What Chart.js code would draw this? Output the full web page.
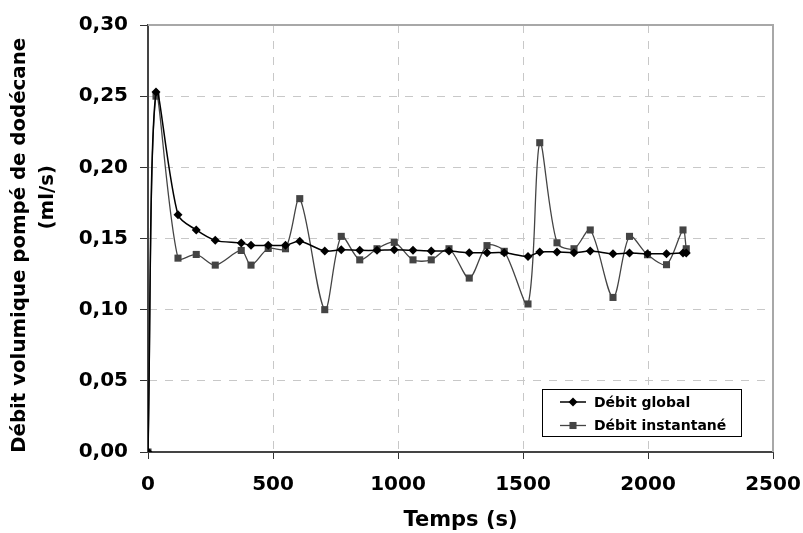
<!DOCTYPE html>
<html>
<head>
<meta charset="utf-8">
<script src="https://cdn.jsdelivr.net/npm/chart.js@4/dist/chart.umd.min.js"></script>
<style>
  body { margin: 0; background: #fff; }
  #wrap { width: 803px; height: 533px; }
</style>
</head>
<body>
<div id="wrap"><canvas id="debitChart" width="803" height="533"></canvas></div>
<script>
// temps (s) des mesures
const temps = [0, 32, 120, 193, 269, 373, 412, 481, 550, 607, 707, 773, 847, 916, 985, 1060,
  1133, 1204, 1285, 1356, 1425, 1520, 1567, 1636, 1704, 1769, 1860, 1926, 1998, 2074, 2140, 2153];
// débit global (ml/s)
const debitGlobal = [0, 0.253, 0.1667, 0.156, 0.1487, 0.1468, 0.1452, 0.1452, 0.1452, 0.148,
  0.1412, 0.1421, 0.1417, 0.1417, 0.1421, 0.1417, 0.1412, 0.1412, 0.140, 0.140, 0.140, 0.1374,
  0.1405, 0.1405, 0.140, 0.1412, 0.1393, 0.1398, 0.1393, 0.1393, 0.1398, 0.1398];
// débit instantané (ml/s)
const debitInstantane = [0, 0.25, 0.1362, 0.1388, 0.1313, 0.1416, 0.1313, 0.143, 0.1428, 0.178,
  0.100, 0.1515, 0.135, 0.1428, 0.1473, 0.135, 0.135, 0.1428, 0.1222, 0.145, 0.141, 0.104,
  0.2173, 0.147, 0.1428, 0.156, 0.1086, 0.1515, 0.1386, 0.1316, 0.156, 0.1428];
const seriesNames = ['Débit global', 'Débit instantané'];
const xTicks = [0, 500, 1000, 1500, 2000, 2500];
const yTicks = [0, 0.05, 0.10, 0.15, 0.20, 0.25, 0.30];

const FONT = "'DejaVu Sans', 'Liberation Sans', Arial, sans-serif";

const toPoints = (xs, ys) => xs.map((x, i) => ({ x: x, y: ys[i] }));

// cadre gris en haut et à droite
const framePlugin = {
    id: 'frame',
    beforeDatasetsDraw(chart) {
        const { ctx, chartArea: a } = chart;
        ctx.save();
        ctx.strokeStyle = '#a8a8a8';
        ctx.lineWidth = 2;
        ctx.beginPath();
        ctx.moveTo(a.left, a.top);
        ctx.lineTo(a.right, a.top);
        ctx.lineTo(a.right, a.bottom);
        ctx.stroke();
        ctx.restore();
    }
};

// légende encadrée dans la zone du graphique
const boxLegend = {
    id: 'boxLegend',
    afterDraw(chart) {
        const { ctx, chartArea: a } = chart;
        const w = 199, h = 47;
        const x0 = a.right - 32 - w, y0 = a.bottom - 16 - h;
        ctx.save();
        ctx.fillStyle = '#fff';
        ctx.fillRect(x0, y0, w, h);
        ctx.strokeStyle = '#000';
        ctx.lineWidth = 1;
        ctx.strokeRect(x0 + 0.5, y0 + 0.5, w, h);
        ctx.font = 'bold 14px ' + FONT;
        ctx.textBaseline = 'middle';
        chart.data.datasets.forEach((ds, i) => {
            const cy = y0 + 13 + i * 23.5;
            ctx.strokeStyle = ds.borderColor;
            ctx.lineWidth = ds.borderWidth;
            ctx.beginPath();
            ctx.moveTo(x0 + 18, cy);
            ctx.lineTo(x0 + 44, cy);
            ctx.stroke();
            ctx.fillStyle = ds.pointBackgroundColor;
            ctx.strokeStyle = ds.pointBorderColor;
            Chart.helpers.drawPoint(ctx, {
                pointStyle: ds.pointStyle, radius: ds.pointRadius, rotation: 0, borderWidth: 0
            }, x0 + 31, cy);
            ctx.fillStyle = '#000';
            ctx.fillText(ds.label, x0 + 52, cy + 1);
        });
        ctx.restore();
    }
};

const ctx = document.getElementById('debitChart').getContext('2d');
const debitChart = new Chart(ctx, {
    type: 'line',
    data: {
        datasets: [{
            label: seriesNames[0],
            data: toPoints(temps, debitGlobal),
            borderColor: '#000000',
            borderWidth: 1.5,
            pointStyle: 'rectRot',
            pointRadius: 4.5,
            pointBackgroundColor: '#000000',
            pointBorderColor: '#000000',
            pointBorderWidth: 0,
            tension: 0.3
        }, {
            label: seriesNames[1],
            data: toPoints(temps, debitInstantane),
            borderColor: '#444444',
            borderWidth: 1.3,
            pointStyle: 'rect',
            pointRadius: 5,
            pointBackgroundColor: '#444444',
            pointBorderColor: '#444444',
            pointBorderWidth: 0,
            tension: 0.3
        }]
    },
    options: {
        responsive: false,
        animation: false,
        layout: { padding: { left: 0, right: 30, top: 25, bottom: 0 } },
        plugins: {
            legend: { display: false },
            tooltip: { enabled: false }
        },
        scales: {
            x: {
                type: 'linear',
                min: 0,
                max: 2500,
                afterBuildTicks: s => { s.ticks = xTicks.map(v => ({ value: v })); },
                afterFit: s => { s.height = 81; s.paddingLeft = 0; s.paddingRight = 0; },
                ticks: {
                    color: '#000',
                    font: { family: FONT, size: 20, weight: 'bold' },
                    padding: 14,
                    maxRotation: 0,
                    callback: v => String(v)
                },
                grid: {
                    color: '#c8c8c8',
                    lineWidth: 1,
                    tickColor: '#333',
                    tickLength: 7,
                    tickWidth: 1
                },
                border: { color: '#444', width: 2, dash: [8, 8] },
                title: {
                    display: true,
                    text: 'Temps (s)',
                    color: '#000',
                    font: { family: FONT, size: 21, weight: 'bold' },
                    padding: { top: 0, bottom: 0 }
                }
            },
            y: {
                type: 'linear',
                min: 0,
                max: 0.30,
                afterBuildTicks: s => { s.ticks = yTicks.map(v => ({ value: v })); },
                afterFit: s => { s.width = 148; s.paddingTop = 0; s.paddingBottom = 0; },
                ticks: {
                    color: '#000',
                    font: { family: FONT, size: 20, weight: 'bold' },
                    padding: 12,
                    callback: v => v.toFixed(2).replace('.', ',')
                },
                grid: {
                    color: '#c8c8c8',
                    lineWidth: 1,
                    tickColor: '#333',
                    tickLength: 8,
                    tickWidth: 1
                },
                border: { color: '#444', width: 2, dash: [8, 8] },
                title: {
                    display: true,
                    text: ['Débit volumique pompé de dodécane  ', '            (ml/s)'],
                    color: '#000',
                    font: { family: FONT, size: 19.75, weight: 'bold', lineHeight: 1.42 },
                    padding: { top: 6, bottom: 0 }
                }
            }
        }
    },
    plugins: [framePlugin, boxLegend]
});
</script>
</body>
</html>
